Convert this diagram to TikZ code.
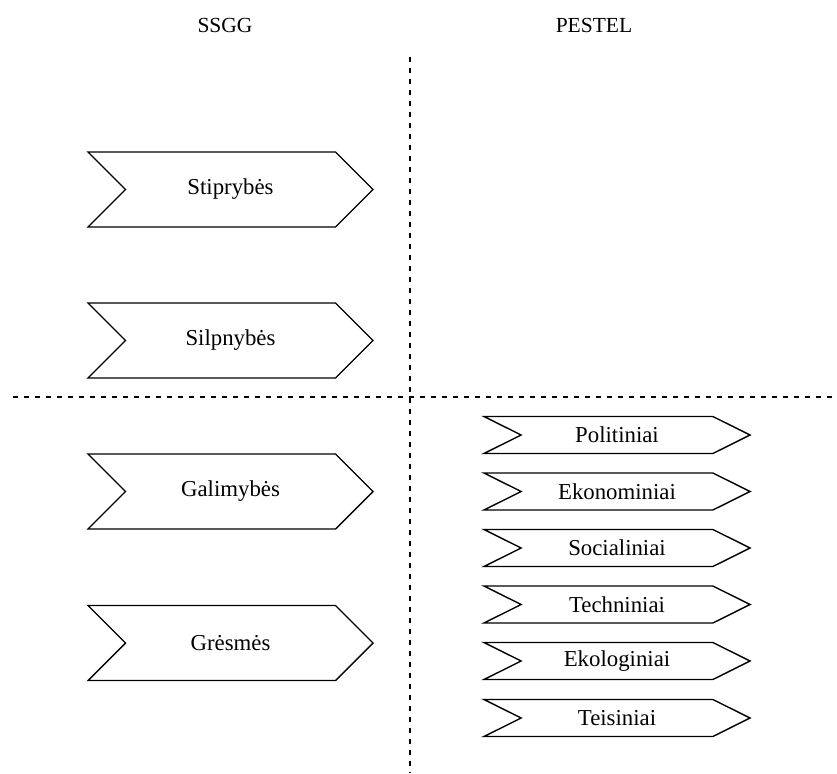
\documentclass[tikz,border=0pt]{standalone}
\usepackage{fontspec}
\setmainfont{Liberation Serif}
\usepackage{tikz}
\usetikzlibrary{shapes.symbols}

\tikzset{
  bigchev/.style = {signal, draw, line width=1.4pt, signal from=west, signal to=east,
    signal pointer angle=90, minimum width=285pt, minimum height=75pt, inner sep=0pt,
    font=\fontsize{22.8}{27}\selectfont},
  smallchev/.style = {signal, draw, line width=1.4pt, signal from=west, signal to=east,
    signal pointer angle=53, minimum width=266pt, minimum height=37pt, inner sep=0pt,
    font=\fontsize{22.8}{27}\selectfont},
  sep/.style = {line width=1.3pt, dash pattern=on 5pt off 6pt}
}

\begin{document}
\begin{tikzpicture}[x=1pt, y=-1pt, font=\fontsize{21.5}{26}\selectfont]
\useasboundingbox (0,0) rectangle (837,773);

% titles
\node (ssgg) at (225,25) {SSGG};
\node (pestel) at (594,25) {PESTEL};

% dividing lines
\coordinate (vtop) at (410,57);
\coordinate (vbot) at (410,773);
\coordinate (hleft) at (13,397);
\coordinate (hright) at (837,397);
\draw[sep] (vtop)--(vbot);
\draw[sep] (hleft)--(hright);

% SSGG
\node[bigchev] (stipr) at (230.5,189.5) {Stiprybės};
\node[bigchev] (silpn) at (230.5,340.5) {Silpnybės};
\node[bigchev] (galim) at (230.5,491.5) {Galimybės};
\node[bigchev] (gresm) at (230.5,643) {Grėsmės};

% PESTEL
\node[smallchev] (polit) at (617,435) {Politiniai};
\node[smallchev] (ekon) at (617,491.5) {Ekonominiai};
\node[smallchev] (soc) at (617,548) {Socialiniai};
\node[smallchev] (tech) at (617,604.5) {Techniniai};
\node[smallchev] (ekol) at (617,661) {Ekologiniai};
\node[smallchev] (teis) at (617,718) {Teisiniai};
\end{tikzpicture}
\end{document}
